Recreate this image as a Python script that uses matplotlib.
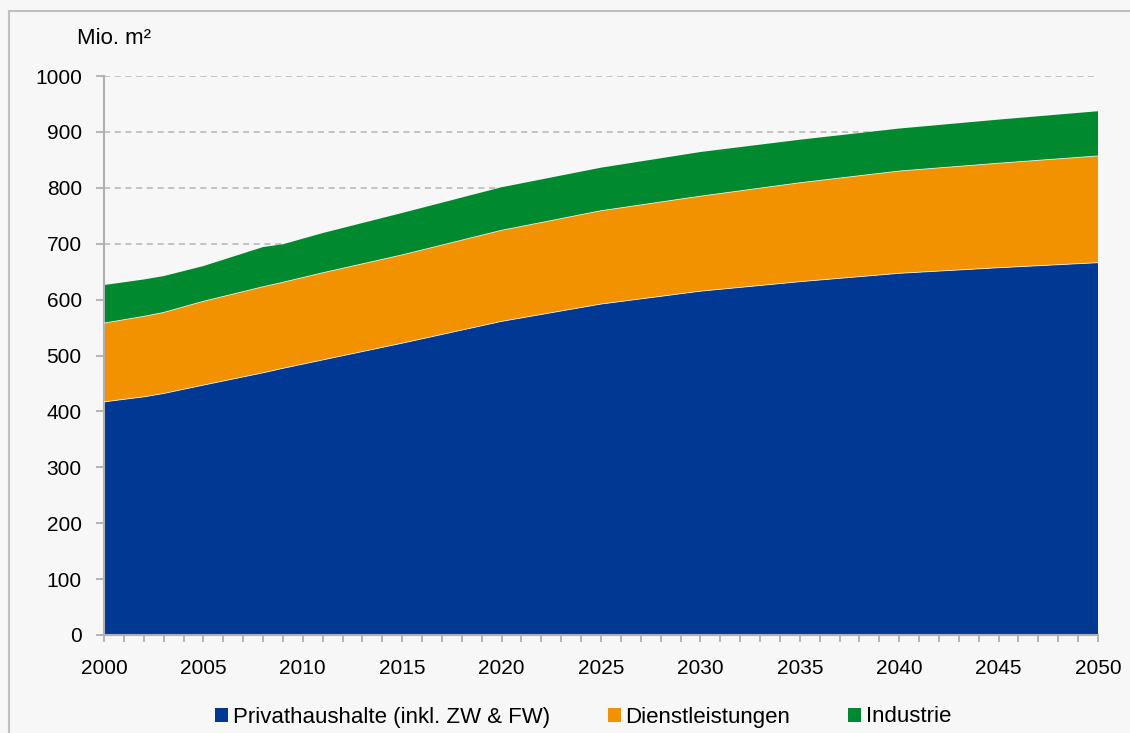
import numpy as np
import matplotlib
matplotlib.use("Agg")
import matplotlib.pyplot as plt
from matplotlib.ticker import MultipleLocator
from matplotlib.lines import Line2D

plt.rcParams['font.family'] = ['Liberation Sans', 'DejaVu Sans']

years = [2000, 2002, 2003, 2005, 2008, 2009, 2011, 2015, 2020, 2025, 2030, 2035, 2040, 2045, 2050]
privat = [417, 426, 432, 447, 469, 477, 492, 522, 561, 592, 615, 632, 647, 657, 666]
dienst = [141, 144, 145, 150, 154, 154, 156, 158, 163, 167, 170, 177, 183, 187, 191]
industrie = [68, 66, 65, 63, 71, 68, 71, 75, 77, 77, 79, 77, 76, 78, 80]
labels = ['Privathaushalte (inkl. ZW & FW)', 'Dienstleistungen', 'Industrie']
colors = ['#003893', '#f39200', '#00892f']

bg = '#f7f7f7'
fig = plt.figure(figsize=(11.3, 7.33), dpi=100, facecolor=bg)
ax = fig.add_axes([104 / 1130, 1 - 635 / 733, 994 / 1130, 559 / 733])
ax.set_facecolor(bg)

polys = ax.stackplot(years, privat, dienst, industrie, colors=colors, labels=labels,
                     linewidth=0, zorder=2)
# feine helle Trennlinien
cum = np.cumsum([privat, dienst], axis=0)
for c in cum:
    ax.plot(years, c, color='white', lw=0.6, alpha=0.8, zorder=3)

ax.set_xlim(2000, 2050)
ax.set_ylim(0, 1000)
ax.yaxis.set_major_locator(MultipleLocator(100))
ax.xaxis.set_major_locator(MultipleLocator(5))
ax.xaxis.set_minor_locator(MultipleLocator(1))
ax.grid(axis='y', color='#b5b5b5', linestyle=(0, (4, 3)), linewidth=1.1, zorder=0)
ax.set_axisbelow(True)

for s in ['top', 'right']:
    ax.spines[s].set_visible(False)
for s in ['left', 'bottom']:
    ax.spines[s].set_color('#b0b0b0')
    ax.spines[s].set_linewidth(1.5)
ax.tick_params(axis='y', which='major', length=6, width=1.3, color='#b0b0b0', labelsize=15, pad=10)
ax.tick_params(axis='x', which='both', length=5, width=1.3, color='#b0b0b0', labelsize=15, pad=12)

fig.text(77 / 1130, 1 - 38 / 733, 'Mio. m²', fontsize=16, va='center', ha='left')

leg = fig.legend(handles=polys, labels=labels, loc='center', bbox_to_anchor=(0.516, 1 - 717 / 733),
                 ncol=3, frameon=False, fontsize=16, handlelength=0.6, handleheight=0.6,
                 handletextpad=0.2, columnspacing=2.6, borderaxespad=0)

# Rahmen (nur links und oben sichtbar)
x0, y0 = 8.5 / 1130, 1 - 11 / 733
fig.lines.append(Line2D([x0, x0], [0, y0], transform=fig.transFigure, color='#c0c0c0', lw=1.5))
fig.lines.append(Line2D([x0, 1], [y0, y0], transform=fig.transFigure, color='#c0c0c0', lw=1.5))

fig.savefig('out.png', dpi=100, facecolor=bg)
